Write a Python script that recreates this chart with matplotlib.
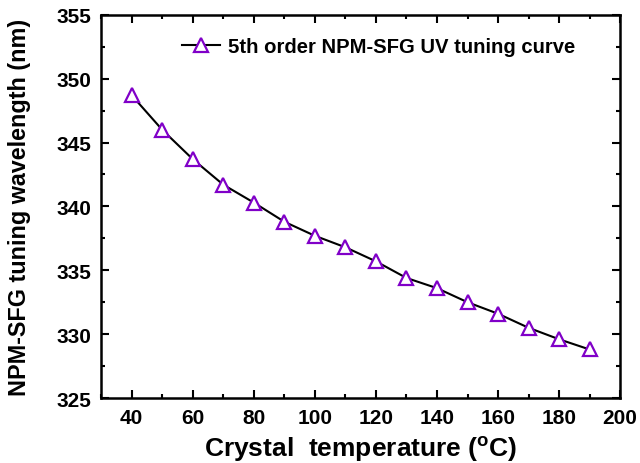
import matplotlib
matplotlib.use("Agg")
import matplotlib.pyplot as plt
from matplotlib.ticker import MultipleLocator

plt.rcParams["font.family"] = ["Liberation Sans", "DejaVu Sans"]
plt.rcParams["font.weight"] = "bold"
plt.rcParams["mathtext.fontset"] = "custom"
plt.rcParams["mathtext.rm"] = "Liberation Sans:bold"
plt.rcParams["mathtext.bf"] = "Liberation Sans:bold"

# crystal temperature (C) and tuning wavelength (nm)
temperature = [40, 50, 60, 70, 80, 90, 100, 110, 120, 130, 140, 150, 160, 170, 180, 190]
wavelength = [348.7, 346.0, 343.7, 341.7, 340.3, 338.8, 337.7, 336.8,
              335.7, 334.4, 333.6, 332.5, 331.6, 330.5, 329.6, 328.8]
series_label = "5th order NPM-SFG UV tuning curve"

fig = plt.figure(figsize=(6.4, 4.64), dpi=100)
ax = fig.add_axes([0.158, 0.140, 0.811, 0.826])

ax.plot(temperature, wavelength, "-", color="black", lw=1.5,
        marker="^", markersize=10, markerfacecolor="white",
        markeredgecolor="#8000c8", markeredgewidth=1.6, label=series_label)

ax.set_xlim(30, 200)
ax.set_ylim(325, 355)
ax.xaxis.set_major_locator(MultipleLocator(20))
ax.xaxis.set_minor_locator(MultipleLocator(10))
ax.yaxis.set_major_locator(MultipleLocator(5))
ax.yaxis.set_minor_locator(MultipleLocator(2.5))
ax.tick_params(which="both", direction="in", top=True, right=True, width=1.5)
ax.tick_params(which="major", length=6, labelsize=15, pad=7)
ax.tick_params(which="minor", length=3)
for s in ax.spines.values():
    s.set_linewidth(1.8)

ax.set_xlabel(r"Crystal  temperature ($^{\mathrm{o}}$C)", fontsize=19, fontweight="bold")
ax.set_ylabel("NPM-SFG tuning wavelength (nm)", fontsize=16.8, fontweight="bold")
ax.xaxis.set_label_coords(0.5, -0.092)
ax.yaxis.set_label_coords(-0.136, 0.5)

ax.legend(loc="center right", bbox_to_anchor=(0.929, 0.918), frameon=False,
          fontsize=14.6, handlelength=1.85, handletextpad=0.4, borderaxespad=0)

fig.savefig("out.png", dpi=100)
